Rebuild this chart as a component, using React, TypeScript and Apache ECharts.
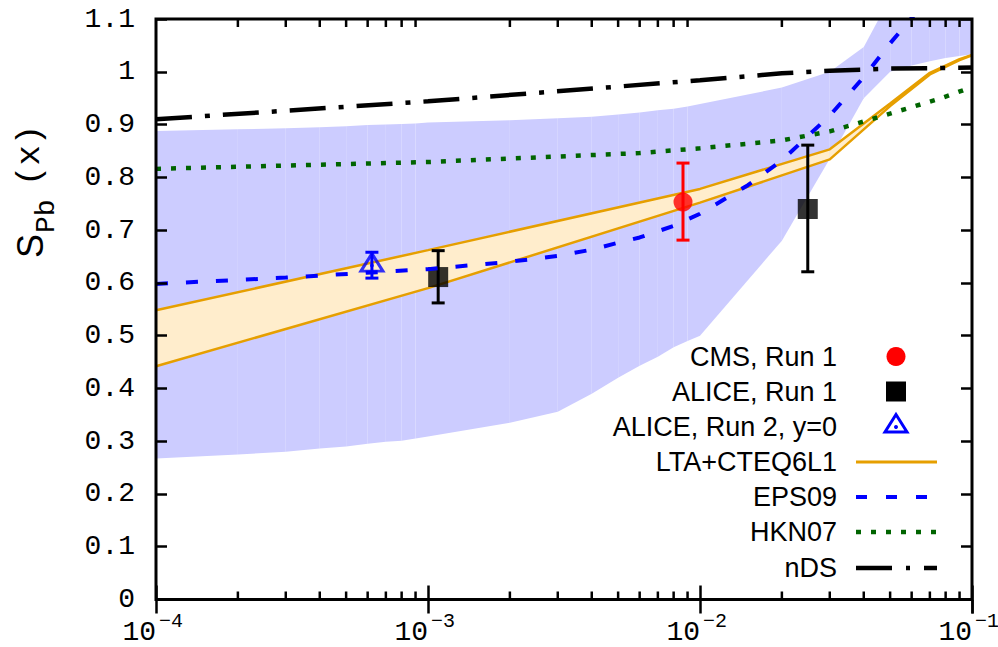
import React, { useEffect, useRef } from "react";
import * as echarts from "echarts";

// ---------- data ----------
const bandX = [1e-4, 2e-4, 3e-4, 4e-4, 5e-4, 6e-4, 7e-4, 8e-4, 9e-4, 1e-3, 2e-3, 3e-3, 4e-3, 5e-3, 6e-3, 7e-3, 8e-3, 9e-3, 1e-2, 2e-2, 3e-2, 4e-2, 5e-2, 6e-2, 7e-2, 8e-2, 9e-2, 1e-1];
const bandLow = [0.267, 0.275, 0.28, 0.286, 0.29, 0.295, 0.299, 0.301, 0.305, 0.309, 0.335, 0.356, 0.39, 0.42, 0.443, 0.46, 0.478, 0.49, 0.5, 0.68, 0.835, 0.95, 1.0, 1.012, 1.02, 1.026, 1.03, 1.033];
const bandHigh = [0.888, 0.891, 0.893, 0.895, 0.897, 0.899, 0.9, 0.901, 0.902, 0.904, 0.908, 0.912, 0.915, 0.919, 0.923, 0.927, 0.93, 0.934, 0.939, 0.97, 1.0, 1.047, 1.14, 1.2, 1.2, 1.2, 1.2, 1.2];

const ltaX = [1e-4, 1e-3, 1e-2, 3e-2, 5e-2, 7e-2, 9e-2, 1e-1];
const ltaUp = [0.548, 0.662, 0.778, 0.853, 0.94, 0.998, 1.024, 1.032];
const ltaLo = [0.442, 0.59, 0.752, 0.834, 0.935, 0.995, 1.022, 1.031];

const epsX = [1e-4, 3e-4, 1e-3, 2e-3, 3e-3, 4e-3, 5e-3, 6e-3, 8e-3, 1e-2, 1.5e-2, 2e-2, 3e-2, 4e-2, 5e-2, 6e-2, 7e-2];
const epsY = [0.598, 0.61, 0.626, 0.64, 0.651, 0.663, 0.676, 0.686, 0.708, 0.731, 0.785, 0.832, 0.917, 0.99, 1.054, 1.102, 1.14];

const hknX = [1e-4, 1e-3, 6e-3, 1e-2, 2e-2, 3e-2, 4.6e-2, 7.6e-2, 1e-1];
const hknY = [0.816, 0.829, 0.846, 0.855, 0.87, 0.887, 0.915, 0.949, 0.971];

const ndsX = [1e-4, 1e-3, 1e-2, 2e-2, 3e-2, 5e-2, 1e-1];
const ndsY = [0.91, 0.944, 0.984, 0.997, 1.002, 1.006, 1.008];

const cmsX = [8.66e-3];
const cmsY = [0.753];
const cmsLo = [0.681];
const cmsHi = [0.827];

const alice1X = [1.09e-3, 0.0249];
const alice1Y = [0.611, 0.74];
const alice1Lo = [0.562, 0.621];
const alice1Hi = [0.661, 0.861];

const alice2X = [6.22e-4];
const alice2Y = [0.633];
const alice2Lo = [0.609];
const alice2Hi = [0.658];

const minorTickX = [2e-4, 3e-4, 4e-4, 5e-4, 6e-4, 7e-4, 8e-4, 9e-4, 2e-3, 3e-3, 4e-3, 5e-3, 6e-3, 7e-3, 8e-3, 9e-3, 2e-2, 3e-2, 4e-2, 5e-2, 6e-2, 7e-2, 8e-2, 9e-2];

const legendLabels = ["CMS, Run 1", "ALICE, Run 1", "ALICE, Run 2, y=0", "LTA+CTEQ6L1", "EPS09", "HKN07", "nDS"];

// ---------- helpers ----------
const zip = (xs: number[], ys: number[]) => xs.map((x, i) => [x, ys[i]]);
const segs = (xs: number[], lo: number[], hi: number[]) =>
  xs.slice(0, -1).map((x, i) => [x, xs[i + 1], lo[i], lo[i + 1], hi[i], hi[i + 1]]);

const SANS = '"Liberation Sans", Arial, sans-serif';
const MONO = '"Liberation Mono", "Courier New", monospace';

const bandRender = (fill: string) => (params: any, api: any) => {
  const x0 = api.value(0), x1 = api.value(1);
  const pts = [
    api.coord([x0, api.value(2)]),
    api.coord([x1, api.value(3)]),
    api.coord([x1, api.value(5)]),
    api.coord([x0, api.value(4)]),
  ];
  return { type: "polygon", shape: { points: pts }, style: { fill } };
};

const errRender = (color: string) => (params: any, api: any) => {
  const x = api.value(0);
  const top = api.coord([x, api.value(2)]);
  const bot = api.coord([x, api.value(1)]);
  const cw = 6.5;
  const st = { stroke: color, lineWidth: 3 };
  return {
    type: "group",
    children: [
      { type: "line", shape: { x1: top[0], y1: top[1], x2: bot[0], y2: bot[1] }, style: st },
      { type: "line", shape: { x1: top[0] - cw, y1: top[1], x2: top[0] + cw, y2: top[1] }, style: st },
      { type: "line", shape: { x1: bot[0] - cw, y1: bot[1], x2: bot[0] + cw, y2: bot[1] }, style: st },
    ],
  };
};

export default function App() {
  const ref = useRef<HTMLDivElement>(null);
  useEffect(() => {
    if (!ref.current) return;
    const chart = echarts.init(ref.current, undefined, { renderer: "svg" });

    const lineBase = { type: "line", symbol: "none", showSymbol: false, clip: true, silent: true, xAxisIndex: 0, yAxisIndex: 0 };
    const axisTickStyle = { color: "#000", width: 2.5 };

    const rowY = [356.5, 391.5, 426.5, 462, 497, 532, 568];
    const textRight = 837;
    const symX = 896;
    const lx1 = 856, lx2 = 937;

    const gfx: any[] = legendLabels.map((t, i) => ({
      type: "text",
      x: textRight,
      y: rowY[i],
      style: { text: t, font: `27px ${SANS}`, fill: "#000", textAlign: "right", textVerticalAlign: "middle" },
      z: 100,
    }));
    gfx.push(
      { type: "circle", shape: { cx: symX, cy: rowY[0], r: 9.5 }, style: { fill: "#ff0000" }, z: 100 },
      { type: "rect", shape: { x: symX - 10, y: rowY[1] - 10, width: 20, height: 20 }, style: { fill: "#000" }, z: 100 },
      { type: "polygon", shape: { points: [[symX, rowY[2] - 12], [symX - 11, rowY[2] + 5.5], [symX + 11, rowY[2] + 5.5]] }, style: { fill: "none", stroke: "#0000ff", lineWidth: 3 }, z: 100 },
      { type: "circle", shape: { cx: symX, cy: rowY[2] + 0.5, r: 2 }, style: { fill: "#0000ff" }, z: 100 },
      { type: "line", shape: { x1: lx1, y1: rowY[3], x2: lx2, y2: rowY[3] }, style: { stroke: "#e69f00", lineWidth: 3 }, z: 100 },
      { type: "line", shape: { x1: lx1, y1: rowY[4], x2: lx2, y2: rowY[4] }, style: { stroke: "#0000ff", lineWidth: 4, lineDash: [11, 19], lineCap: "butt" }, z: 100 },
      { type: "line", shape: { x1: lx1, y1: rowY[5], x2: lx2, y2: rowY[5] }, style: { stroke: "#006400", lineWidth: 4.5, lineDash: [5, 10], lineCap: "butt" }, z: 100 },
      { type: "line", shape: { x1: lx1, y1: rowY[6], x2: lx2, y2: rowY[6] }, style: { stroke: "#000", lineWidth: 4.5, lineDash: [36, 14, 4, 14], lineCap: "butt" }, z: 100 }
    );

    // y-axis title (rotated)
    gfx.push({
      type: "group",
      x: 0,
      y: 258,
      rotation: Math.PI / 2,
      z: 100,
      children: [
        { type: "text", x: 0, y: 30, style: { text: "S", font: `36px ${SANS}`, fill: "#000", textAlign: "left", textVerticalAlign: "middle" } },
        { type: "text", x: 25, y: 46, style: { text: "Pb", font: `28px ${MONO}`, fill: "#000", textAlign: "left", textVerticalAlign: "middle" } },
        { type: "text", x: 72, y: 30, style: { text: "(x)", font: `34px ${MONO}`, fill: "#000", textAlign: "left", textVerticalAlign: "middle" } },
      ],
    });

    const logAxisBase = {
      type: "log", logBase: 10, min: 1e-4, max: 0.1,
      axisLine: { show: false }, splitLine: { show: false },
    };

    const option: any = {
      animation: false,
      backgroundColor: "#fff",
      grid: {
        left: 156, top: 19, right: 26, bottom: 47.5,
        containLabel: false, outerBoundsMode: "none",
        show: true, borderColor: "#000", borderWidth: 3, backgroundColor: "transparent", z: 50,
      },
      xAxis: [
        {
          ...logAxisBase, position: "bottom",
          axisTick: { inside: true, length: 14, lineStyle: axisTickStyle },
          axisLabel: {
            margin: 18.5, showMinLabel: true, showMaxLabel: true, hideOverlap: false,
            align: "right", fontFamily: MONO, fontSize: 28, color: "#000",
            formatter: () => "10",
          },
          z: 60,
        },
        {
          ...logAxisBase, position: "top",
          axisTick: { inside: true, length: 14, lineStyle: axisTickStyle },
          axisLabel: { show: false },
          z: 60,
        },
        {
          ...logAxisBase, position: "bottom", offset: 0,
          axisTick: { show: false },
          axisLabel: {
            margin: 11.5, showMinLabel: true, showMaxLabel: true, hideOverlap: false,
            align: "left", fontFamily: MONO, fontSize: 20, color: "#000", padding: [0, 0, 0, 3],
            formatter: (v: number) => `\u2212${-Math.round(Math.log10(v))}`,
          },
          z: 60,
        },
      ],
      yAxis: [
        {
          type: "value", min: 0, max: 1.1, interval: 0.1, position: "left",
          axisLine: { show: false }, splitLine: { show: false },
          axisTick: { inside: true, length: 11, lineStyle: axisTickStyle },
          axisLabel: {
            margin: 21, fontFamily: MONO, fontSize: 28, color: "#000", showMinLabel: true, showMaxLabel: true,
            formatter: (v: number) => String(Math.round(v * 10) / 10),
          },
          z: 60,
        },
        {
          type: "value", min: 0, max: 1.1, interval: 0.1, position: "right",
          axisLine: { show: false }, splitLine: { show: false },
          axisTick: { inside: true, length: 11, lineStyle: axisTickStyle },
          axisLabel: { show: false },
          z: 60,
        },
      ],
      series: [
        {
          type: "custom", name: "band", clip: true, silent: true, z: 1,
          xAxisIndex: 0, yAxisIndex: 0,
          data: segs(bandX, bandLow, bandHigh),
          encode: { x: [0, 1], y: [2, 3, 4, 5] },
          renderItem: bandRender("#ccccff"),
        },
        {
          type: "custom", name: "ltaBand", clip: true, silent: true, z: 2,
          xAxisIndex: 0, yAxisIndex: 0,
          data: segs(ltaX, ltaLo, ltaUp),
          encode: { x: [0, 1], y: [2, 3, 4, 5] },
          renderItem: bandRender("#ffedcc"),
        },
        { ...lineBase, name: "LTA+CTEQ6L1", z: 3, data: zip(ltaX, ltaUp), lineStyle: { color: "#e69f00", width: 2.5 } },
        { ...lineBase, name: "LTA low", z: 3, data: zip(ltaX, ltaLo), lineStyle: { color: "#e69f00", width: 2.5 } },
        {
          type: "custom", name: "errCMS", silent: true, z: 4, xAxisIndex: 0, yAxisIndex: 0,
          data: cmsX.map((x, i) => [x, cmsLo[i], cmsHi[i]]), encode: { x: 0, y: [1, 2] },
          renderItem: errRender("#ff0000"),
        },
        {
          type: "custom", name: "errALICE1", silent: true, z: 4, xAxisIndex: 0, yAxisIndex: 0,
          data: alice1X.map((x, i) => [x, alice1Lo[i], alice1Hi[i]]), encode: { x: 0, y: [1, 2] },
          renderItem: errRender("#000000"),
        },
        {
          type: "custom", name: "errALICE2", silent: true, z: 4, xAxisIndex: 0, yAxisIndex: 0,
          data: alice2X.map((x, i) => [x, alice2Lo[i], alice2Hi[i]]), encode: { x: 0, y: [1, 2] },
          renderItem: errRender("#0000ff"),
        },
        { type: "scatter", name: "CMS, Run 1", z: 5, silent: true, symbol: "circle", symbolSize: 19, itemStyle: { color: "#ff0000" }, data: zip(cmsX, cmsY) },
        { type: "scatter", name: "ALICE, Run 1", z: 5, silent: true, symbol: "rect", symbolSize: 20, itemStyle: { color: "#000" }, data: zip(alice1X, alice1Y) },
        {
          type: "scatter", name: "ALICE, Run 2, y=0", z: 5, silent: true, symbol: "triangle", symbolSize: [22, 17.5], symbolOffset: [0, -3],
          itemStyle: { color: "rgba(0,0,0,0)", borderColor: "#0000ff", borderWidth: 3 }, data: zip(alice2X, alice2Y),
        },
        { type: "scatter", name: "ALICE2 dot", z: 5, silent: true, symbol: "circle", symbolSize: 4, itemStyle: { color: "#0000ff" }, data: zip(alice2X, alice2Y) },
        { ...lineBase, name: "EPS09", z: 6, data: zip(epsX, epsY), lineStyle: { color: "#0000ff", width: 4, type: [12, 18], cap: "butt" } },
        { ...lineBase, name: "HKN07", z: 6, data: zip(hknX, hknY), lineStyle: { color: "#006400", width: 4.5, type: [5, 10], cap: "butt" } },
        { ...lineBase, name: "nDS", z: 6, data: zip(ndsX, ndsY), lineStyle: { color: "#000", width: 4.5, type: [36, 13, 5, 13], cap: "butt" } },
        {
          type: "custom", name: "minorTicks", silent: true, z: 60, clip: false, xAxisIndex: 0, yAxisIndex: 0,
          data: minorTickX.map((x) => [x, 0, 1.1]), encode: { x: 0, y: [1, 2] },
          renderItem: (params: any, api: any) => {
            const x = api.value(0);
            const b = api.coord([x, api.value(1)]);
            const t = api.coord([x, api.value(2)]);
            const st = { stroke: "#000", lineWidth: 2.5 };
            return {
              type: "group",
              children: [
                { type: "line", shape: { x1: b[0], y1: b[1], x2: b[0], y2: b[1] - 8 }, style: st },
                { type: "line", shape: { x1: t[0], y1: t[1], x2: t[0], y2: t[1] + 8 }, style: st },
              ],
            };
          },
        },
      ],
      graphic: gfx,
    };
    chart.setOption(option);
    return () => chart.dispose();
  }, []);
  return <div ref={ref} style={{ position: "fixed", left: 0, top: 0, width: 998, height: 647, background: "#fff" }} />;
}
